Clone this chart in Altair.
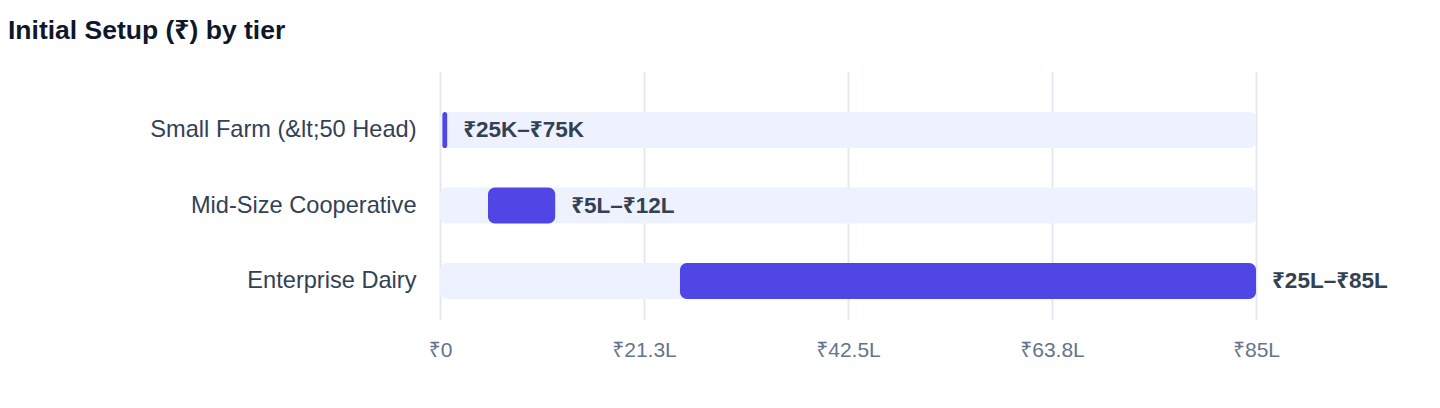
import altair as alt
import pandas as pd

tiers = ["Small Farm (&lt;50 Head)", "Mid-Size Cooperative", "Enterprise Dairy"]
low_lakh = [0.25, 5, 25]
high_lakh = [0.75, 12, 85]
range_labels = ["₹25K–₹75K", "₹5L–₹12L", "₹25L–₹85L"]
scale_max = 85
tick_values = [0, 21.25, 42.5, 63.75, 85]

df = pd.DataFrame({
    "tier": tiers,
    "low": low_lakh,
    "high": high_lakh,
    "label": range_labels,
    "zero": [0] * len(tiers),
    "max": [scale_max] * len(tiers),
})

FONT = "Liberation Sans, Noto Sans, DejaVu Sans"

y_enc = alt.Y(
    "tier:N",
    sort=tiers,
    title=None,
    scale=alt.Scale(paddingInner=0.523, paddingOuter=0.404, align=0.656),
    axis=alt.Axis(
        ticks=False, domain=False, labelPadding=24, labelFontSize=23.6,
        labelColor="#334155", labelFont=FONT, labelLimit=400,
    ),
)

x_scale = alt.Scale(domain=[0, scale_max], nice=False, zero=True)

track = alt.Chart(df).mark_bar(color="#EEF2FF", cornerRadius=7).encode(
    x=alt.X(
        "zero:Q",
        scale=x_scale,
        title=None,
        axis=alt.Axis(
            values=tick_values,
            labelExpr="datum.value == 0 ? '₹0' : '₹' + format(datum.value, '.1~f') + 'L'",
            ticks=False, domain=False, labelPadding=19, labelFontSize=21,
            labelColor="#64748B", labelFont=FONT, labelFlush=False,
            grid=True, gridColor="#E2E8F0", gridWidth=2,
        ),
    ),
    x2="max:Q",
    y=y_enc,
)

bars = alt.Chart(df).mark_bar(color="#4F46E5", cornerRadius=7).encode(
    x=alt.X("low:Q", scale=x_scale),
    x2="high:Q",
    y=alt.Y("tier:N", sort=tiers),
)

text = alt.Chart(df).mark_text(
    align="left", baseline="middle", dx=16, fontSize=22.5, fontWeight="bold",
    color="#334155", font=FONT,
).encode(
    x=alt.X("high:Q", scale=x_scale),
    y=alt.Y("tier:N", sort=tiers),
    text="label:N",
)

chart = alt.layer(track, bars, text).properties(
    width=816,
    height=248,
    padding={"left": 432, "top": 64, "right": 176, "bottom": 80},
    autosize=alt.AutoSizeParams(type="none"),
    title=alt.TitleParams(
        "Initial Setup (₹) by tier",
        anchor="start", frame="group", dx=-432, offset=28,
        fontSize=26.5, fontWeight="bold", color="#0F172A", font=FONT,
    ),
).configure_view(stroke=None)

chart.save("out.html", embed_options={"renderer": "svg", "actions": False})
